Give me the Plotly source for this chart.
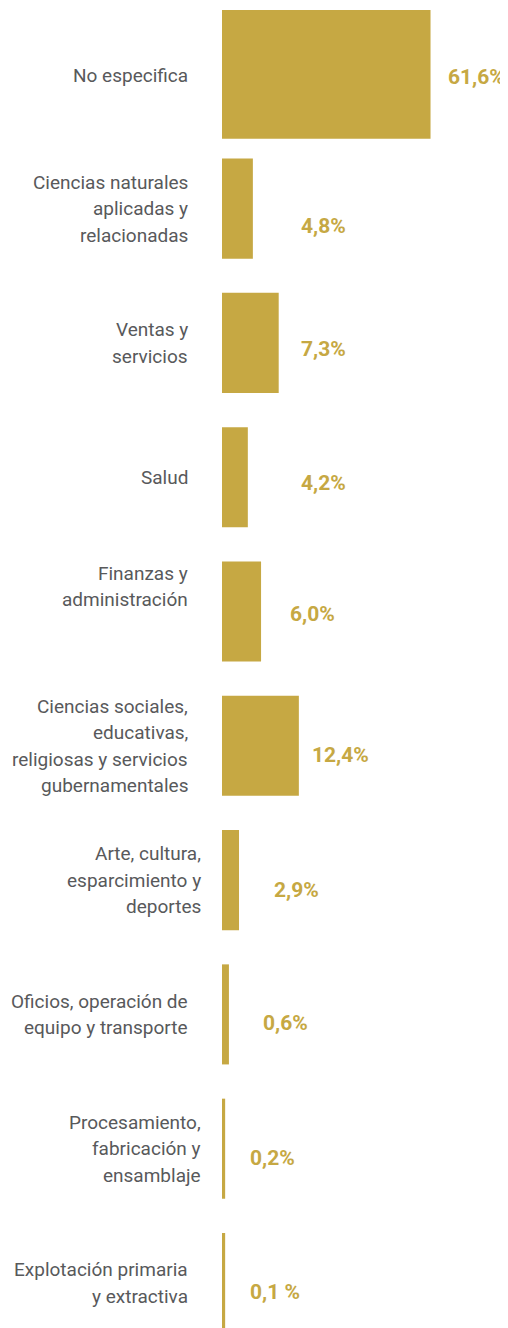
import plotly.graph_objects as go

# ---- data ----
categories = [
    "No especifica",
    "Ciencias naturales<br>aplicadas y<br>relacionadas",
    "Ventas y<br>servicios",
    "Salud",
    "Finanzas y<br>administración",
    "Ciencias sociales,<br>educativas,<br>religiosas y servicios<br>gubernamentales",
    "Arte, cultura,<br>esparcimiento y<br>deportes",
    "Oficios, operación de<br>equipo y transporte",
    "Procesamiento,<br>fabricación y<br>ensamblaje",
    "Explotación primaria<br>y extractiva",
]
value_labels = ["61,6%", "4,8%", "7,3%", "4,2%", "6,0%", "12,4%", "2,9%", "0,6%", "0,2%", "0,1 %"]
# displayed bar lengths as drawn in the picture (the 61.6% bar is drawn truncated)
bar_lengths = [33.1, 4.9, 9.0, 4.1, 6.2, 12.2, 2.7, 1.1, 0.5, 0.5]

# ---- style / layout ----
GOLD = "#c6a843"
GREY = "#58595b"
FONT = "Roboto"
PAGE_OFFSET = 8  # default body margin of the html page
W, H = 508 - PAGE_OFFSET, 1328 - PAGE_OFFSET
LEFT = 222 - PAGE_OFFSET
PX_PER_UNIT = 6.3
ROW0, ROW_STEP = 74.3 - PAGE_OFFSET, 134.3
LINE_GAP = 26.5

bar_widths = [0.958] + [0.745] * 9
label_xshift = [-32, -32, -32, -32, -32, -32, -19, -32, -19, -32]
label_yshift = [-1, 0, 0, 0, 25, 0, 0, 0, 0, 0]
value_xshift = [15, 46, 20, 51, 27, 11, 33, 32, 23, 23]
value_yshift = [-3, -17, -6, -6, -2, -9, -10, -9, -9, -9]

ypos = list(range(len(categories)))

fig = go.Figure(
    go.Bar(
        x=bar_lengths,
        y=ypos,
        orientation="h",
        width=bar_widths,
        marker=dict(color=GOLD, line=dict(width=0)),
        hoverinfo="skip",
    )
)

annotations = []
for i, cat in enumerate(categories):
    lines = cat.split("<br>")
    n = len(lines)
    for j, line in enumerate(lines):
        annotations.append(dict(
            x=0, xref="paper", y=ypos[i], yref="y",
            text=line, showarrow=False, xanchor="right", yanchor="middle",
            align="right", xshift=label_xshift[i],
            yshift=label_yshift[i] - (j - (n - 1) / 2) * LINE_GAP,
            font=dict(family=FONT, size=19, color=GREY),
        ))
    annotations.append(dict(
        x=bar_lengths[i], xref="x", y=ypos[i], yref="y",
        text=value_labels[i], showarrow=False, xanchor="left", yanchor="middle",
        xshift=value_xshift[i], yshift=value_yshift[i],
        font=dict(family=FONT, size=21, color=GOLD, weight="bold"),
    ))

fig.update_layout(
    width=W, height=H,
    margin=dict(l=LEFT, r=0, t=0, b=0),
    paper_bgcolor="white", plot_bgcolor="white",
    showlegend=False,
    xaxis=dict(range=[0, (W - LEFT) / PX_PER_UNIT], visible=False, fixedrange=True),
    yaxis=dict(range=[(H - ROW0) / ROW_STEP, -ROW0 / ROW_STEP], visible=False, fixedrange=True),
    annotations=annotations,
)

fig.write_html("out.html", config={"displayModeBar": False})
